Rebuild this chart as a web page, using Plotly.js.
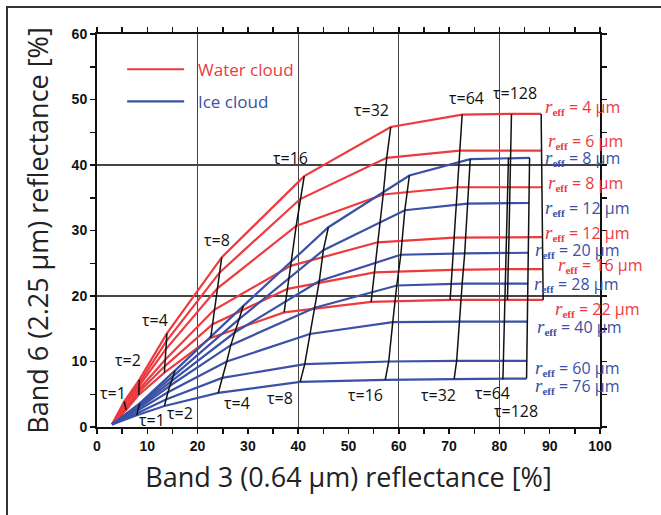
<!DOCTYPE html>
<html><head><meta charset="utf-8">
<script src="https://cdn.plot.ly/plotly-3.0.1.min.js"></script>
<style>
html,body{margin:0;padding:0;background:#fff;}
#wrap{position:relative;width:661px;height:515px;overflow:hidden;}
#chart{width:661px;height:515px;}
#frame{position:absolute;left:6px;top:6px;width:700px;height:560px;border-left:2px solid #333;border-top:2px solid #333;pointer-events:none;}
</style></head><body>
<div id="wrap"><div id="chart"></div><div id="frame"></div></div>
<script>
// ---------------- DATA ----------------
const tauWater = [0, 1, 2, 4, 8, 16, 32, 64, 128, 256];
const reffWater = [4, 6, 8, 12, 16, 22];
// rows: r_eff, columns: tau
const waterX = [
  [3.0, 5.4, 8.4, 13.9, 24.8, 41.2, 58.4, 72.6, 82.4, 88.3],
  [3.0, 5.5, 8.4, 13.8, 24.4, 40.4, 57.6, 72.1, 82.2, 88.4],
  [3.0, 5.5, 8.4, 13.7, 24.0, 39.6, 56.9, 71.7, 82.1, 88.5],
  [3.0, 5.6, 8.3, 13.6, 23.3, 38.5, 55.8, 71.0, 81.9, 88.6],
  [3.0, 5.7, 8.3, 13.5, 23.0, 37.9, 55.2, 70.6, 81.7, 88.6],
  [3.0, 5.8, 8.3, 13.4, 22.6, 37.2, 54.5, 70.2, 81.6, 88.7]
];
const waterY = [
  [0.4, 3.9, 7.2, 14.3, 25.9, 38.3, 45.8, 47.7, 47.8, 47.8],
  [0.4, 3.6, 6.7, 13.1, 23.6, 34.8, 41.1, 42.2, 42.2, 42.2],
  [0.4, 3.4, 6.3, 11.9, 21.2, 30.7, 35.5, 36.6, 36.6, 36.6],
  [0.4, 3.0, 5.7, 10.3, 17.9, 24.6, 28.2, 28.9, 29.0, 29.0],
  [0.4, 2.8, 5.3, 9.3, 15.7, 21.1, 23.6, 24.0, 24.1, 24.1],
  [0.4, 2.6, 4.9, 8.3, 13.6, 17.5, 19.1, 19.4, 19.4, 19.4]
];
const tauIce = [0, 1, 2, 4, 8, 16, 32, 64, 128];
const reffIce = [8, 12, 20, 28, 40, 60, 76];
const iceX = [
  [3.0, 8.5, 15.5, 29.1, 46.0, 62.1, 74.2, 81.8, 86.0],
  [3.0, 8.4, 15.2, 28.3, 45.0, 61.2, 73.7, 81.6, 85.9],
  [3.0, 8.3, 14.8, 27.5, 44.2, 60.4, 73.1, 81.4, 85.8],
  [3.0, 8.2, 14.5, 26.6, 43.3, 59.6, 72.6, 81.2, 85.7],
  [3.0, 8.1, 14.1, 25.8, 42.3, 58.8, 72.1, 81.1, 85.6],
  [3.0, 8.0, 13.7, 24.9, 41.3, 58.0, 71.5, 80.9, 85.5],
  [3.0, 7.9, 13.4, 24.1, 40.4, 57.3, 71.0, 80.7, 85.4]
];
const iceY = [
  [0.4, 3.6, 8.6, 18.5, 30.5, 38.4, 40.9, 41.1, 41.1],
  [0.4, 3.4, 7.8, 16.5, 27.0, 33.1, 34.1, 34.2, 34.2],
  [0.4, 3.1, 7.0, 14.5, 22.3, 26.3, 26.5, 26.6, 26.6],
  [0.4, 2.8, 6.3, 12.5, 18.2, 21.6, 21.9, 21.9, 21.9],
  [0.4, 2.5, 5.3, 10.0, 14.2, 16.0, 16.1, 16.1, 16.1],
  [0.4, 2.1, 4.2, 7.5, 9.6, 10.0, 10.1, 10.1, 10.1],
  [0.4, 1.8, 3.2, 5.2, 6.9, 7.2, 7.3, 7.3, 7.4]
];
const legendNames = ['Water cloud', 'Ice cloud'];
const xTitle = 'Band 3 (0.64 µm) reflectance [%]';
const yTitle = 'Band 6 (2.25 µm) reflectance [%]';

// ---------------- STYLE / LABEL PLACEMENT ----------------
const RED = '#ec3a3f', BLUE = '#3a51a5';
const tauLabelWater = [[1,3.2,5.2],[2,6.2,10.2],[4,11.5,16.4],[8,23.9,28.6],[16,38.4,41.0],[32,54.6,48.4],[64,73.5,50.3],[128,83.1,51.0]];
const tauLabelIce = [[1,10.9,1.1],[2,16.5,2.2],[4,27.8,3.6],[8,36.4,4.4],[16,53.3,4.9],[32,67.9,4.9],[64,78.7,5.2],[128,83.3,2.5]];
// [r_eff, phase, left x, center y]
const reffLabels = [
  [4,'w',88.6,48.9],[6,'w',89.2,43.6],[8,'i',88.6,41.0],[8,'w',89.2,37.2],
  [12,'i',88.6,33.4],[12,'w',88.7,29.6],[20,'i',86.6,27.0],[16,'w',91.3,24.7],
  [28,'i',86.4,21.8],[22,'w',90.6,18.0],[40,'i',87.0,15.2],[60,'i',86.6,9.0],[76,'i',86.6,6.2]
];

const traces = [];
reffWater.forEach((r, k) => traces.push({
  x: waterX[k], y: waterY[k], type: 'scatter', mode: 'lines',
  line: {color: RED, width: 2.2}, name: '<span style="color:' + RED + '">\u00a0\u00a0' + legendNames[0] + '</span>',
  legendgroup: 'w', showlegend: k === 0, hoverinfo: 'skip'
}));
reffIce.forEach((r, k) => traces.push({
  x: iceX[k], y: iceY[k], type: 'scatter', mode: 'lines',
  line: {color: BLUE, width: 2.2}, name: '<span style="color:' + BLUE + '">\u00a0\u00a0' + legendNames[1] + '</span>',
  legendgroup: 'i', showlegend: k === 0, hoverinfo: 'skip'
}));
for (let i = 1; i < tauWater.length; i++) traces.push({
  x: waterX.map(r => r[i]), y: waterY.map(r => r[i]), type: 'scatter', mode: 'lines',
  line: {color: '#111', width: 1.5}, showlegend: false, hoverinfo: 'skip'
});
for (let i = 1; i < tauIce.length; i++) traces.push({
  x: iceX.map(r => r[i]), y: iceY.map(r => r[i]), type: 'scatter', mode: 'lines',
  line: {color: '#111', width: 1.5}, showlegend: false, hoverinfo: 'skip'
});
// grid-only overlay axes
traces.push({x: [], y: [], xaxis: 'x2', yaxis: 'y2', showlegend: false, type: 'scatter'});

const annotations = [];
const TAUFONT = {family: 'Open Sans, Liberation Sans, sans-serif', size: 16, color: '#111'};
tauLabelWater.concat(tauLabelIce).forEach(t => annotations.push({
  x: t[1], y: t[2], xref: 'x', yref: 'y', text: 'τ=' + t[0], showarrow: false,
  font: TAUFONT, xanchor: 'center', yanchor: 'middle'
}));
reffLabels.forEach(l => annotations.push({
  x: l[2], y: l[3], xref: 'x', yref: 'y', showarrow: false, xanchor: 'left', yanchor: 'middle',
  text: '<i style="font-family:Liberation Serif;font-size:19px">r</i><sub style="font-family:Liberation Serif;font-weight:bold">eff</sub> = ' + l[0] + ' µm',
  font: {family: 'Open Sans, Liberation Sans, sans-serif', size: 16, color: l[1] === 'w' ? RED : BLUE}
}));

const TICKFONT = {family: 'Liberation Sans Narrow, Arial Narrow, Liberation Sans, sans-serif', size: 14, color: '#111', weight: 'bold'};
const TITLEFONT = {family: 'Open Sans, Liberation Sans, sans-serif', size: 27, color: '#222'};
const layout = {
  width: 661, height: 515,
  margin: {l: 97, r: 61, t: 34, b: 88},
  paper_bgcolor: '#fff', plot_bgcolor: '#fff',
  showlegend: true,
  legend: {x: 0.05, y: 0.955, xanchor: 'left', yanchor: 'top', bgcolor: 'rgba(0,0,0,0)',
    font: {family: 'Open Sans, Liberation Sans, sans-serif', size: 17}, itemwidth: 57, tracegroupgap: 7},
  xaxis: {range: [0, 100], dtick: 10, tick0: 0, ticks: 'outside', ticklen: 5, tickwidth: 1.5, tickcolor: '#111',
    minor: {dtick: 5, ticks: 'outside', ticklen: 5, tickwidth: 1.5, tickcolor: '#111', showgrid: false},
    showline: true, linewidth: 2, linecolor: '#111', mirror: 'allticks', showgrid: false, zeroline: false,
    tickfont: TICKFONT, automargin: false,
    title: {text: xTitle, font: TITLEFONT, standoff: 15}},
  yaxis: {range: [0, 60], dtick: 10, tick0: 0, ticks: 'outside', ticklen: 5, tickwidth: 1.5, tickcolor: '#111',
    minor: {dtick: 5, ticks: 'outside', ticklen: 5, tickwidth: 1.5, tickcolor: '#111', showgrid: false},
    showline: true, linewidth: 2, linecolor: '#111', mirror: 'allticks', showgrid: false, zeroline: false,
    tickfont: TICKFONT, automargin: false,
    title: {text: yTitle, font: TITLEFONT, standoff: 15}},
  xaxis2: {overlaying: 'x', range: [0, 100], dtick: 20, showgrid: true, gridcolor: '#444', gridwidth: 1.4,
    showticklabels: false, ticks: '', showline: false, zeroline: false, anchor: 'y2'},
  yaxis2: {overlaying: 'y', range: [0, 60], dtick: 20, showgrid: true, gridcolor: '#444', gridwidth: 1.4,
    showticklabels: false, ticks: '', showline: false, zeroline: false, anchor: 'x2'},
  annotations: annotations
};
Plotly.newPlot('chart', traces, layout, {displayModeBar: false, staticPlot: true});
</script></body></html>
